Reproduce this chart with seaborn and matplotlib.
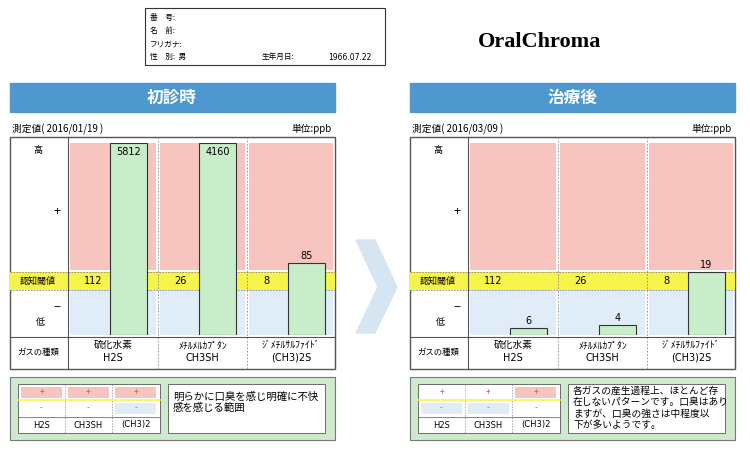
import numpy as np
import pandas as pd
import matplotlib
matplotlib.use("Agg")
import matplotlib.pyplot as plt
import matplotlib.patches as mp
import seaborn as sns

plt.rcParams["font.family"] = ["Noto Sans CJK JP", "DejaVu Sans"]

# DATA
gases = ["H2S", "CH3SH", "(CH3)2S"]
gas_jp = ["硫化水素", "ﾒﾁﾙﾒﾙｶﾌﾟﾀﾝ", "ｼﾞﾒﾁﾙｻﾙﾌｧｲﾄﾞ"]
thresholds = [112, 26, 8]
before_vals = [5812, 4160, 85]
after_vals = [6, 4, 19]
panel_titles = ["初診時", "治療後"]
dates = ["2016/01/19", "2016/03/09"]
legend_plus = [[True, True, True], [False, False, True]]
legend_minus = [[False, False, True], [True, True, False]]
notes = ["明らかに口臭を感じ明確に不快\n感を感じる範囲",
         "各ガスの産生過程上、ほとんど存\n在しないパターンです。口臭はあり\nますが、口臭の強さは中程度以\n下が多いようです。"]

PINK = "#f7c4bf"
LOWB = "#e0edf8"
YEL = "#f6f34a"
BAR = "#c7edc9"
BLUE = "#4c98cf"
GREEN = "#cfe9cf"


def disp_height(v, thr):
    # display scale of the device: relative to the perception threshold, clamped
    r = v / thr
    if r < 1:
        return 5 + r * 30
    if r > 30:
        return 192
    return 63 + 1.1 * (r - 2.4)


fig = plt.figure(figsize=(7.5, 4.5), dpi=100)
ax = fig.add_axes([0, 0, 1, 1])
ax.set_xlim(0, 750)
ax.set_ylim(450, 0)
ax.axis("off")

# header
ax.add_patch(mp.Rectangle((145, 8), 240, 57, fill=False, lw=0.8, ec="#333"))
for y, t in zip([18, 31, 44, 57], ["番　号:", "名　前:", "フリガナ:", "性　別:  男"]):
    ax.text(150, y, t, fontsize=5.5, va="center")
ax.text(262, 57, "生年月日:", fontsize=5.5, va="center")
ax.text(328, 57, "1966.07.22", fontsize=5.5, va="center", family="DejaVu Sans")
ax.text(540, 42, "OralChroma", fontsize=16, fontweight="bold", family="Liberation Serif",
        ha="center", va="center")

# arrow chevron
ax.add_patch(mp.Polygon([(356, 240), (375, 240), (397, 287), (375, 333), (356, 333), (378, 287)],
                        color="#d5e6f2"))


def draw_panel(x0, title, date, vals, plus, minus, note):
    ax.add_patch(mp.Rectangle((x0, 83), 325, 29, color=BLUE))
    ax.text(x0 + 162, 98, title, color="white", fontsize=12, fontweight="bold",
            ha="center", va="center")
    ax.text(x0 + 2, 129, f"測定値( {date} )", fontsize=7, va="center")
    ax.text(x0 + 322, 129, "単位:ppb", fontsize=7, ha="right", va="center")
    ax.add_patch(mp.Rectangle((x0, 137), 325, 232, fill=False, lw=1, ec="#555"))
    cols = [x0 + 58, x0 + 148, x0 + 237, x0 + 325]
    for i in range(3):
        ax.add_patch(mp.Rectangle((cols[i] + 2, 143), cols[i + 1] - cols[i] - 4, 127, color=PINK, lw=0))
        ax.add_patch(mp.Rectangle((cols[i] + 2, 290), cols[i + 1] - cols[i] - 4, 45, color=LOWB, lw=0))
    ax.add_patch(mp.Rectangle((x0, 272), 325, 18, color=YEL, lw=0))
    for yy in (272, 290):
        ax.plot([x0, x0 + 325], [yy, yy], ls=(0, (2, 1.5)), color="#888", lw=0.6)
    ax.plot([cols[0], cols[0]], [137, 369], color="#555", lw=0.8)
    for c in cols[1:3]:
        ax.plot([c, c], [137, 369], ls=(0, (2, 2)), color="#888", lw=0.6)
    ax.plot([x0, x0 + 325], [337, 337], color="#555", lw=0.8)
    ax.text(x0 + 28, 150, "高", fontsize=6.5, ha="center", va="center")
    ax.text(x0 + 47, 212, "+", fontsize=9, ha="center", va="center")
    ax.text(x0 + 47, 307, "−", fontsize=9, ha="center", va="center")
    ax.text(x0 + 30, 322, "低", fontsize=6.5, ha="center", va="center")
    ax.text(x0 + 28, 281, "認知閾値", fontsize=6.5, ha="center", va="center")
    ax.text(x0 + 28, 353, "ガスの種類", fontsize=6, ha="center", va="center")
    for i in range(3):
        cx = (cols[i] + cols[i + 1]) / 2
        ax.text(cx, 345, gas_jp[i], fontsize=7, ha="center", va="center")
        ax.text(cx, 358, gases[i] if i < 2 else "(CH3)2S", fontsize=7, ha="center", va="center",
                family="DejaVu Sans")
        ax.text(cols[i] + 16, 281, str(thresholds[i]), fontsize=7, va="center", family="DejaVu Sans")

    # bars via seaborn in an inset axes spanning the gas columns
    bx = fig.add_axes([cols[0] / 750, 1 - 335 / 450, (cols[3] - cols[0]) / 750, 192 / 450])
    df = pd.DataFrame({"gas": gases,
                       "h": [disp_height(v, t) for v, t in zip(vals, thresholds)]})
    sns.barplot(data=df, x="gas", y="h", ax=bx, color=BAR, edgecolor="#333",
                linewidth=0.8, width=0.42, saturation=1)
    bx.set_xlim(-0.5 - 0.18, 2.5 - 0.18)
    bx.set_ylim(0, 192)
    bx.axis("off")
    bx.patch.set_alpha(0)
    for i, (v, h) in enumerate(zip(vals, df["h"])):
        if h >= 185:
            bx.text(i, h - 4, str(v), ha="center", va="top", fontsize=7, family="DejaVu Sans")
        else:
            bx.text(i, h + 2, str(v), ha="center", va="bottom", fontsize=7, family="DejaVu Sans")

    # legend box
    ax.add_patch(mp.Rectangle((x0, 377), 325, 63, fc=GREEN, ec="#777", lw=0.8))
    ax.add_patch(mp.Rectangle((x0 + 8, 384), 142, 49, fc="white", ec="#555", lw=0.6))
    ax.add_patch(mp.Rectangle((x0 + 158, 384), 157, 49, fc="white", ec="#555", lw=0.6))
    lc = [x0 + 8, x0 + 55, x0 + 102, x0 + 150]
    for i in range(3):
        if plus[i]:
            ax.add_patch(mp.Rectangle((lc[i] + 3, 387), 41, 11, color=PINK, lw=0))
        if minus[i]:
            ax.add_patch(mp.Rectangle((lc[i] + 3, 403), 41, 11, color=LOWB, lw=0))
        cx = (lc[i] + lc[i + 1]) / 2
        ax.text(cx, 392, "+", fontsize=6, ha="center", va="center", color="#c55")
        ax.text(cx, 408, "-", fontsize=6, ha="center", va="center", color="#888")
        ax.text(cx, 425, ["H2S", "CH3SH", "(CH3)2"][i], fontsize=6, ha="center", va="center",
                family="DejaVu Sans")
    for c in lc[1:3]:
        ax.plot([c, c], [384, 433], ls=(0, (2, 2)), color="#888", lw=0.5)
    ax.plot([x0 + 8, x0 + 150], [400, 400], color=YEL, lw=1.2)
    ax.plot([x0 + 8, x0 + 150], [417, 417], color="#555", lw=0.5)
    ax.text(x0 + 163, 408 if note.count("\n") > 1 else 402, note, fontsize=7.5 if note.count("\n") < 2 else 7,
            va="center", linespacing=1.15)


draw_panel(10, panel_titles[0], dates[0], before_vals, legend_plus[0], legend_minus[0], notes[0])
draw_panel(410, panel_titles[1], dates[1], after_vals, legend_plus[1], legend_minus[1], notes[1])

fig.savefig("out.png", dpi=100)
